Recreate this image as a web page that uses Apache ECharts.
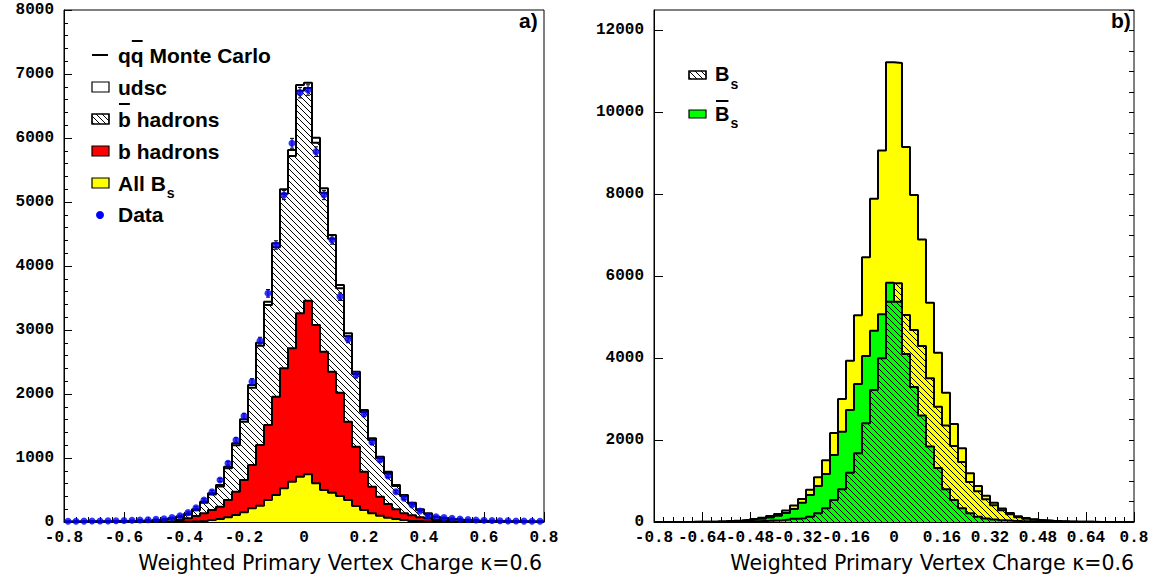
<!DOCTYPE html>
<html>
<head>
<meta charset="utf-8">
<script src="https://cdn.jsdelivr.net/npm/echarts@6/dist/echarts.min.js"></script>
<style>
  html, body { margin: 0; padding: 0; background: #fff; }
  #chart { width: 1156px; height: 582px; }
</style>
</head>
<body>
<div id="chart"></div>
<script>
// Histogram binning: 60 bins over the vertex-charge range
const xMin = -0.8;
const xMax = 0.8;
const nBins = 60;

// ---- Panel a) : stacked MC contributions and data, per bin ----
const udsc = [3,3,3,4,4,4,5,5,6,7, 8,9,10,11,12,14,16,18,20,22,
  25,30,36,42,48,52,60,70,92,90, 85,78,68,60,52,45,38,32,27,23,
  20,17,15,13,11,9,7,6,5,5, 4,4,4,3,3,3,3,3,3,3];
const bbarHadrons = [5,6,7,7,8,9,10,11,13,15, 18,23,28,34,42,59,88,165,240,316,
  496,725,912,1208,1551,1875,2336,2727,3006,3478, 3322,2849,2484,2075,1630,1335,1134,932,728,602,
  485,363,272,185,114,69,45,36,30,25, 21,17,14,12,11,9,8,7,6,5];
const bHadrons = [0,0,0,0,0,0,0,1,1,2, 3,5,9,15,31,57,94,135,188,240,
  344,474,656,891,1203,1516,1958,2401,2714,3260, 3458,3078,2661,2349,2021,1568,1177,786,552,396,
  281,198,135,104,73,57,31,15,9,5, 3,2,1,1,0,0,0,0,0,0];
const allBs = [0,0,0,0,0,0,0,0,0,0, 0,1,2,3,4,7,11,16,31,47,
  73,109,151,214,255,344,422,526,630,708, 745,604,500,458,406,344,250,188,135,99,
  68,47,31,16,10,6,4,2,1,0, 0,0,0,0,0,0,0,0,0,0];
const dataCounts = [12,13,14,15,16,18,20,23,26,30, 35,42,50,68,99,146,224,344,474,656,
  917,1281,1656,2193,2833,3573,4328,5109,5917,6708, 6750,5786,5109,4406,3521,2854,2297,1687,1245,969,
  719,474,370,266,172,94,83,68,57,45, 38,32,28,24,20,18,16,14,13,12];
const dataErrors = [4,4,4,4,4,4,5,5,5,6, 6,7,7,8,10,12,15,19,22,26,
  30,36,41,47,53,60,66,72,77,82, 82,76,72,66,59,53,48,41,35,31,
  27,22,19,16,13,10,9,8,8,7, 6,6,5,5,5,4,4,4,4,4];

// ---- Panel b) : B_s and anti-B_s, per bin ----
const bsCounts = [0,0,0,1,1,2,2,3,4,6, 9,13,18,25,35,45,60,80,90,130,
  212,334,537,798,1204,1676,2409,3223,3996,5379, 5830,5054,4687,4297,3508,2815,2358,1853,1464,976,
  749,555,410,288,190,118,79,53,37,26, 18,12,8,6,4,3,2,1,1,0];
const bsBarCounts = [0,1,1,2,3,5,7,10,15,22, 30,42,58,80,110,150,220,320,470,659,
  879,1172,1636,2205,2734,3369,4053,4671,5071,5843, 5375,4100,3296,2600,1846,1319,800,540,334,212,
  130,85,60,42,30,22,16,12,8,6, 4,3,2,1,1,0,0,0,0,0];

const axisTitle = 'Weighted Primary Vertex Charge \u03BA=0.6';

// ---- helpers ----
const binWidth = (xMax - xMin) / nBins;
function stepPoints(values) {
  const pts = values.map((v, k) => [xMin + k * binWidth, v]);
  pts.push([xMax, values[values.length - 1]]);
  return pts;
}
function addArrays(...arrs) {
  return arrs[0].map((_, k) => arrs.reduce((s, a) => s + a[k], 0));
}
function hatchPattern(period, lw) {
  const c = document.createElement('canvas');
  c.width = period; c.height = period;
  const g = c.getContext('2d');
  g.strokeStyle = '#000';
  g.lineWidth = lw;
  g.beginPath();
  for (const o of [-period, 0, period]) {
    g.moveTo(o, 0);
    g.lineTo(o + period, period);
  }
  g.stroke();
  return c;
}
const hatch = { image: hatchPattern(6, 1), repeat: 'repeat' };

function histSeries(values, fill, gridIdx, z) {
  return {
    type: 'line', xAxisIndex: gridIdx, yAxisIndex: gridIdx === 0 ? 0 : 1,
    data: stepPoints(values), step: 'end', symbol: 'none', silent: true,
    lineStyle: { color: '#000', width: 2 },
    areaStyle: { color: fill, opacity: 1 },
    z: z, animation: false
  };
}

const mcTotal = addArrays(bHadrons, bbarHadrons, udsc);
const bPlusBbar = addArrays(bHadrons, bbarHadrons);
const bsSum = addArrays(bsCounts, bsBarCounts);
const binCentres = dataCounts.map((_, k) => xMin + (k + 0.5) * binWidth);

// text measuring for overbars and subscripts
const mctx = document.createElement('canvas').getContext('2d');
const LEG_FONT = '"Liberation Sans", Arial, sans-serif';
function tw(t, size) {
  mctx.font = 'bold ' + size + 'px ' + LEG_FONT;
  return mctx.measureText(t).width;
}
function legText(x, y, t, size) {
  return { type: 'text', x: x, y: y, silent: true, z: 100,
    style: { text: t, fontSize: size, fontWeight: 'bold', fontFamily: LEG_FONT,
      fill: '#000', verticalAlign: 'middle', align: 'left' } };
}
function bar(x1, x2, y) {
  return { type: 'line', silent: true, z: 100,
    shape: { x1: x1, y1: y, x2: x2, y2: y }, style: { stroke: '#000', lineWidth: 2 } };
}
function swatch(x, y, w, h, fill) {
  return { type: 'rect', silent: true, z: 100,
    shape: { x: x, y: y, width: w, height: h },
    style: { fill: fill, stroke: '#000', lineWidth: 1.2 } };
}

const FS = 21;
const tx = 118;
const rows = [55, 87, 119, 151, 183, 214];
const legendA = [
  bar(92, 108, rows[0]),
  legText(tx, rows[0], 'qq Monte Carlo', FS),
  bar(tx + tw('q', FS) + 1, tx + tw('qq', FS) - 1, rows[0] - 14),
  swatch(92, rows[1] - 5, 17, 10, '#fff'),
  legText(tx, rows[1], 'udsc', FS),
  swatch(92, rows[2] - 5, 17, 10, '#fff'),
  swatch(92, rows[2] - 5, 17, 10, hatch),
  legText(tx, rows[2], 'b hadrons', FS),
  bar(tx + 1, tx + tw('b', FS) - 1, rows[2] - 15),
  swatch(92, rows[3] - 5, 17, 10, '#ff0000'),
  legText(tx, rows[3], 'b hadrons', FS),
  swatch(92, rows[4] - 5, 17, 10, '#ffff00'),
  legText(tx, rows[4], 'All B', FS),
  legText(tx + tw('All B', FS) + 1, rows[4] + 10, 's', 14),
  { type: 'circle', silent: true, z: 100, shape: { cx: 100, cy: rows[5] + 1, r: 4 },
    style: { fill: '#0000ff' } },
  legText(tx, rows[5], 'Data', FS)
];

const FSB = 20;
const bx = 715;
const legendB = [
  swatch(689, 71, 17, 8, '#fff'),
  swatch(689, 71, 17, 8, hatch),
  legText(bx, 74, 'B', FSB),
  legText(bx + tw('B', FSB) + 1, 84, 's', 14),
  swatch(689, 110, 17, 8, '#00ff00'),
  legText(bx, 114, 'B', FSB),
  bar(bx + 1, bx + tw('B', FSB) - 1, 101),
  legText(bx + tw('B', FSB) + 1, 123, 's', 14)
];

const TITLE_FONT = '"DejaVu Sans", sans-serif';
const titles = [
  legText(519, 20, 'a)', FS),
  legText(1111, 20, 'b)', FS),
  { type: 'text', x: 542, y: 563, silent: true,
    style: { text: axisTitle, fontSize: 20.5, fontFamily: TITLE_FONT,
      fill: '#000', align: 'right', verticalAlign: 'middle' } },
  { type: 'text', x: 1134, y: 563, silent: true,
    style: { text: axisTitle, fontSize: 20.5, fontFamily: TITLE_FONT,
      fill: '#000', align: 'right', verticalAlign: 'middle' } }
];

const TICK_FONT = { fontFamily: '"Liberation Mono", "Courier New", monospace',
  fontWeight: 'bold', fontSize: 16, color: '#000' };
const black = { color: '#000', width: 1 };
const plainNumber = v => String(v);

function xAxisCfg(gridIndex, interval, minorSplit) {
  return {
    gridIndex: gridIndex, type: 'value', min: xMin, max: xMax, interval: interval,
    axisLine: { show: true, onZero: false, lineStyle: black },
    axisTick: { show: true, inside: true, length: 10, lineStyle: black },
    minorTick: { show: true, splitNumber: minorSplit, length: 5, lineStyle: black },
    splitLine: { show: false },
    axisLabel: Object.assign({ margin: 8 }, TICK_FONT)
  };
}

const option = {
  animation: false,
  backgroundColor: '#fff',
  grid: [
    { left: 64, top: 10, width: 480, height: 512, show: true, borderColor: '#000', borderWidth: 1 },
    { left: 654, top: 10, width: 480, height: 512, show: true, borderColor: '#000', borderWidth: 1 }
  ],
  xAxis: [xAxisCfg(0, 0.2, 5), xAxisCfg(1, 0.16, 5)],
  yAxis: [
    { gridIndex: 0, type: 'value', min: 0, max: 8000, interval: 1000,
      axisLine: { show: true, onZero: false, lineStyle: black },
      axisTick: { show: true, inside: true, length: 8, lineStyle: black },
      minorTick: { show: true, splitNumber: 5, length: 4, lineStyle: black },
      splitLine: { show: false },
      axisLabel: Object.assign({ margin: 10, formatter: plainNumber }, TICK_FONT) },
    { gridIndex: 1, type: 'value', min: 0, max: 12500, interval: 2000,
      axisLine: { show: true, onZero: false, lineStyle: black },
      axisTick: { show: true, inside: true, length: 9, lineStyle: black },
      splitLine: { show: false },
      axisLabel: Object.assign({ margin: 10, showMaxLabel: false, formatter: plainNumber }, TICK_FONT) },
    { gridIndex: 1, type: 'value', min: 0, max: 12500, interval: 500,
      axisLine: { show: false, onZero: false },
      axisTick: { show: true, inside: true, length: 5, lineStyle: black },
      splitLine: { show: false },
      axisLabel: { show: false } }
  ],
  series: [
    // panel a
    histSeries(mcTotal, '#fff', 0, 2),
    histSeries(bPlusBbar, hatch, 0, 3),
    histSeries(bHadrons, '#ff0000', 0, 4),
    histSeries(allBs, '#ffff00', 0, 5),
    {
      type: 'custom', xAxisIndex: 0, yAxisIndex: 0, silent: true, z: 6,
      data: dataCounts.map((v, k) => [binCentres[k], v, dataErrors[k]]),
      renderItem: function (params, api) {
        const x = api.value(0), y = api.value(1), e = api.value(2);
        const t = api.coord([x, y + e]);
        const b = api.coord([x, Math.max(0, y - e)]);
        const st = { stroke: '#000', lineWidth: 1 };
        return { type: 'group', children: [
          { type: 'line', shape: { x1: t[0], y1: t[1], x2: b[0], y2: b[1] }, style: st },
          { type: 'line', shape: { x1: t[0] - 2, y1: t[1], x2: t[0] + 2, y2: t[1] }, style: st },
          { type: 'line', shape: { x1: b[0] - 2, y1: b[1], x2: b[0] + 2, y2: b[1] }, style: st }
        ] };
      }
    },
    {
      type: 'scatter', xAxisIndex: 0, yAxisIndex: 0, silent: true, z: 7,
      data: dataCounts.map((v, k) => [binCentres[k], v]),
      symbol: 'circle', symbolSize: 7, itemStyle: { color: '#0000ff' }
    },
    // panel b
    histSeries(bsSum, '#ffff00', 1, 2),
    histSeries(bsBarCounts, '#00ff00', 1, 3),
    histSeries(bsCounts, hatch, 1, 4)
  ],
  graphic: { elements: legendA.concat(legendB, titles) }
};

const chart = echarts.init(document.getElementById('chart'), null, { renderer: 'svg', width: 1156, height: 582 });
chart.setOption(option);
</script>
</body>
</html>
